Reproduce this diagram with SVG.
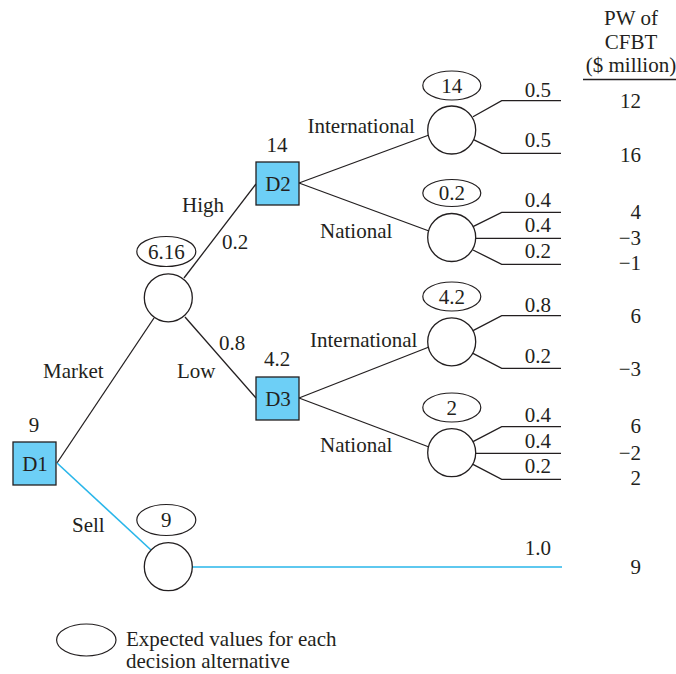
<svg xmlns="http://www.w3.org/2000/svg" width="676" height="674" viewBox="0 0 676 674">
<style>
text{font-family:"Liberation Serif","Times New Roman",serif;font-size:21px;fill:#231f20}
.m{text-anchor:middle}
.e{text-anchor:end}
.dec{fill:#6dcff6;stroke:#231f20;stroke-width:1.3}
.ch{fill:#fff;stroke:#231f20;stroke-width:1.3}
.ev{fill:none;stroke:#231f20;stroke-width:1.2}
.ln{fill:none;stroke:#231f20;stroke-width:1.3}
.bl{fill:none;stroke:#29b6ea;stroke-width:1.6}
</style>
<rect width="676" height="674" fill="#fff"/>
<g id="connectors">
<line class="ln" x1="57" y1="463" x2="154" y2="318"/>
<line class="bl" x1="57" y1="463" x2="151" y2="550"/>
<line class="bl" x1="192" y1="567" x2="562" y2="567"/>
<line class="ln" x1="184" y1="278" x2="256" y2="184"/>
<line class="ln" x1="185" y1="317" x2="256" y2="398"/>
<line class="ln" x1="299" y1="183" x2="429" y2="135"/>
<line class="ln" x1="299" y1="183" x2="429" y2="231"/>
<line class="ln" x1="299" y1="398" x2="429" y2="347"/>
<line class="ln" x1="299" y1="398" x2="429" y2="447"/>
<polyline class="ln" points="473,116.7 501.7,100.7 561,100.7"/>
<polyline class="ln" points="473,139.3 501.7,153.3 561,153.3"/>
<polyline class="ln" points="473,226.7 501.7,212.3 561,212.3"/>
<line class="ln" x1="476" y1="238.3" x2="561" y2="238.3"/>
<polyline class="ln" points="473,250 501.7,264.3 561,264.3"/>
<polyline class="ln" points="473,330.7 501.7,315.7 561,315.7"/>
<polyline class="ln" points="473,353.3 501.7,368.3 561,368.3"/>
<polyline class="ln" points="473,441.7 501.7,426.7 561,426.7"/>
<line class="ln" x1="476" y1="453.3" x2="561" y2="453.3"/>
<polyline class="ln" points="473,464.3 501.7,479.3 561,479.3"/>
<line class="ln" x1="583" y1="79.5" x2="676" y2="79.5"/>
</g>
<g id="D1"><rect class="dec" x="13" y="442" width="43" height="43"/><text class="m" x="35" y="471">D1</text><text class="m" x="34" y="432">9</text></g>
<g id="D2"><rect class="dec" x="256" y="162" width="43" height="43"/><text class="m" x="278" y="191">D2</text><text class="m" x="277" y="152">14</text></g>
<g id="D3"><rect class="dec" x="256" y="377" width="43" height="43"/><text class="m" x="278" y="406">D3</text><text class="m" x="277" y="366">4.2</text></g>
<g id="C1"><circle class="ch" cx="168.3" cy="297.8" r="24"/><ellipse class="ev" cx="166.3" cy="251.5" rx="29.5" ry="15"/><text class="m" x="166.3" y="258.5">6.16</text></g>
<g id="C2"><circle class="ch" cx="168.3" cy="566.7" r="24"/><ellipse class="ev" cx="166.3" cy="520" rx="29.5" ry="15.5"/><text class="m" x="166.3" y="527">9</text></g>
<g id="C3"><circle class="ch" cx="451.7" cy="130" r="24"/><ellipse class="ev" cx="451.8" cy="85.5" rx="29" ry="14.5"/><text class="m" x="451.8" y="92.5">14</text></g>
<g id="C4"><circle class="ch" cx="451.7" cy="237.5" r="24"/><ellipse class="ev" cx="451.8" cy="193" rx="29" ry="13.5"/><text class="m" x="451.8" y="200">0.2</text></g>
<g id="C5"><circle class="ch" cx="451.7" cy="341.8" r="24"/><ellipse class="ev" cx="451.8" cy="296.5" rx="29" ry="14.5"/><text class="m" x="451.8" y="303.5">4.2</text></g>
<g id="C6"><circle class="ch" cx="451.7" cy="452.7" r="24"/><ellipse class="ev" cx="451.8" cy="407.5" rx="29" ry="14.5"/><text class="m" x="451.8" y="414.5">2</text></g>
<g id="branch-labels">
<text x="43" y="378">Market</text>
<text x="72" y="532">Sell</text>
<text x="182" y="212">High</text>
<text x="222" y="249">0.2</text>
<text x="219" y="350">0.8</text>
<text x="177" y="378">Low</text>
<text x="307.5" y="132.5">International</text>
<text x="320" y="238">National</text>
<text x="310" y="347">International</text>
<text x="320" y="452">National</text>
</g>
<g id="probabilities">
<text class="e" x="551" y="96.5">0.5</text>
<text class="e" x="551" y="146.7">0.5</text>
<text class="e" x="551" y="206.7">0.4</text>
<text class="e" x="551" y="232.3">0.4</text>
<text class="e" x="551" y="258.3">0.2</text>
<text class="e" x="551" y="311.7">0.8</text>
<text class="e" x="551" y="363.3">0.2</text>
<text class="e" x="551" y="421.7">0.4</text>
<text class="e" x="551" y="447.7">0.4</text>
<text class="e" x="551" y="473.3">0.2</text>
<text class="e" x="551" y="555">1.0</text>
</g>
<g id="values">
<text class="m" x="631" y="25">PW of</text>
<text class="m" x="631" y="49">CFBT</text>
<text class="m" x="631" y="72">($ million)</text>
<text class="e" x="641" y="108.3">12</text>
<text class="e" x="641" y="161.7">16</text>
<text class="e" x="641" y="219">4</text>
<text class="e" x="641" y="245">−3</text>
<text class="e" x="641" y="270">−1</text>
<text class="e" x="641" y="322.7">6</text>
<text class="e" x="641" y="375.7">−3</text>
<text class="e" x="641" y="433.3">6</text>
<text class="e" x="641" y="460">−2</text>
<text class="e" x="641" y="485">2</text>
<text class="e" x="641" y="574">9</text>
</g>
<g id="legend">
<ellipse class="ev" cx="86.3" cy="640" rx="29.7" ry="16"/>
<text x="126" y="646">Expected values for each</text>
<text x="126" y="668">decision alternative</text>
</g>
</svg>
